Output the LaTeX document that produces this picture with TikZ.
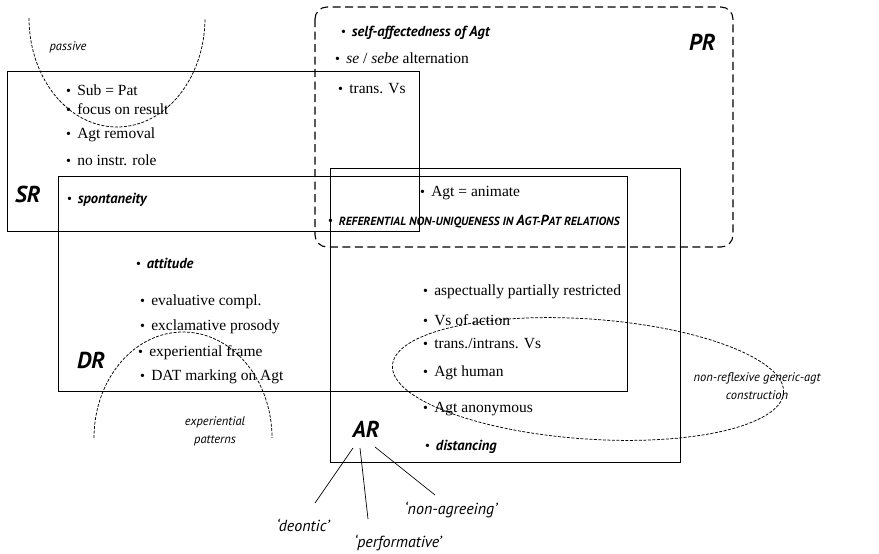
\documentclass[tikz,border=0pt]{standalone}
\usepackage{fontspec}
\setmainfont{Liberation Serif}
\setsansfont{PT Sans}

\newcommand{\bul}{{\fontsize{14}{14}\selectfont\rmfamily\upshape\mdseries\textbullet}\hspace{0.4em}}
\newcommand{\smc}[1]{{\fontsize{11.8}{13}\selectfont #1}}

\tikzset{
  box/.style={draw=black, line width=0.9pt},
  prbox/.style={draw=black, line width=1.1pt, dash pattern=on 8pt off 4.5pt, rounded corners=12pt},
  fine/.style={draw=black, line width=0.75pt, dash pattern=on 3pt off 1.5pt},
  item/.style={anchor=west, inner sep=0pt, font=\fontsize{15.5}{17}\selectfont},
  feat/.style={anchor=west, inner sep=0pt, font=\fontsize{14.5}{16}\selectfont\sffamily\bfseries\itshape},
  region/.style={anchor=west, inner sep=0pt, font=\fontsize{23}{25}\selectfont\sffamily\bfseries\itshape},
  note/.style={inner sep=0pt, align=center, font=\fontsize{12.5}{18}\selectfont\sffamily\itshape},
  gloss/.style={inner sep=0pt, font=\fontsize{16}{18}\selectfont\sffamily\itshape}
}

\begin{document}
\begin{tikzpicture}
    [x=1pt, y=-1pt]
    \useasboundingbox (0,0) rectangle (879,554);
    %regions
    \draw[box] (7,71) rectangle (419,231);
    \draw[box] (58,176) rectangle (627,391);
    \draw[box] (330,168) rectangle (680,462);
    \draw[prbox] (315,7) rectangle (733,247);
    %dashed constructions
    \draw[fine] (29,18) arc (180:0:88 and 109);
    \draw[fine] (94,438) arc (180:360:89 and 106);
    \draw[fine, rotate around={-4:(588,379)}] (588,379) ellipse [x radius=196, y radius=60];
    %SR
    \node[region] (SR) at (15,194) {SR};
    \node[item] (sub) at (66,90) {\bul Sub = Pat};
    \node[item] (focus) at (66,109) {\bul focus on result};
    \node[item] (removal) at (66,135) {\bul Agt removal};
    \node[item] (instr) at (66,160) {\bul no instr. role};
    \node[feat] (spont) at (67,200) {\bul spontaneity};
    %PR
    \node[region] (PR) at (689,42) {PR};
    \node[feat] (selfaff) at (341,33) {\bul self-affectedness of Agt};
    \node[item] (sebe) at (335,58) {\bul\textit{se} / \textit{sebe} alternation};
    \node[item] (trans) at (338,89) {\bul trans. Vs};
    \node[item] (animate) at (420,193) {\bul Agt = animate};
    \node[feat] (refer) at (328,222) {\bul\smc{REFERENTIAL NON-UNIQUENESS IN }A\smc{GT-}P\smc{AT RELATIONS}};
    %DR
    \node[region] (DR) at (77,360) {DR};
    \node[feat] (attit) at (136,263) {\bul attitude};
    \node[item] (evalc) at (140,302) {\bul evaluative compl.};
    \node[item] (exclam) at (140,327) {\bul exclamative prosody};
    \node[item] (frame) at (138,353) {\bul experiential frame};
    \node[item] (dat) at (140,377) {\bul DAT marking on Agt};
    %AR
    \node[region, anchor=center] (AR) at (366,429) {AR};
    \node[item] (aspect) at (423,292) {\bul aspectually partially restricted};
    \node[item] (action) at (423,320) {\bul Vs of action};
    \node[item] (intrans) at (423,343) {\bul trans./intrans. Vs};
    \node[item] (human) at (423,373) {\bul Agt human};
    \node[item] (anon) at (423,409) {\bul Agt anonymous};
    \node[feat] (dist) at (425,447) {\bul distancing};
    %notes
    \node[note] (passive) at (68,47) {passive};
    \node[note] (exper) at (215,431) {experiential\\patterns};
    \node[note] (nonrefl) at (757,386) {non-reflexive generic-agt\\construction};
    %readings of AR
    \node[gloss] (deontic) at (303,525) {‘deontic’};
    \node[gloss] (perf) at (398,543) {‘performative’};
    \node[gloss] (nonagr) at (451,510) {‘non-agreeing’};
    \draw[line width=0.7pt] ([xshift=-13pt,yshift=-19pt]AR.center) -- ([xshift=12pt,yshift=22pt]deontic.center);
    \draw[line width=0.7pt] ([xshift=-6pt,yshift=-19pt]AR.center) -- ([xshift=-30pt,yshift=24pt]perf.center);
    \draw[line width=0.7pt] ([xshift=9pt,yshift=-18pt]AR.center) -- ([xshift=-16pt,yshift=15pt]nonagr.center);
\end{tikzpicture}
\end{document}
